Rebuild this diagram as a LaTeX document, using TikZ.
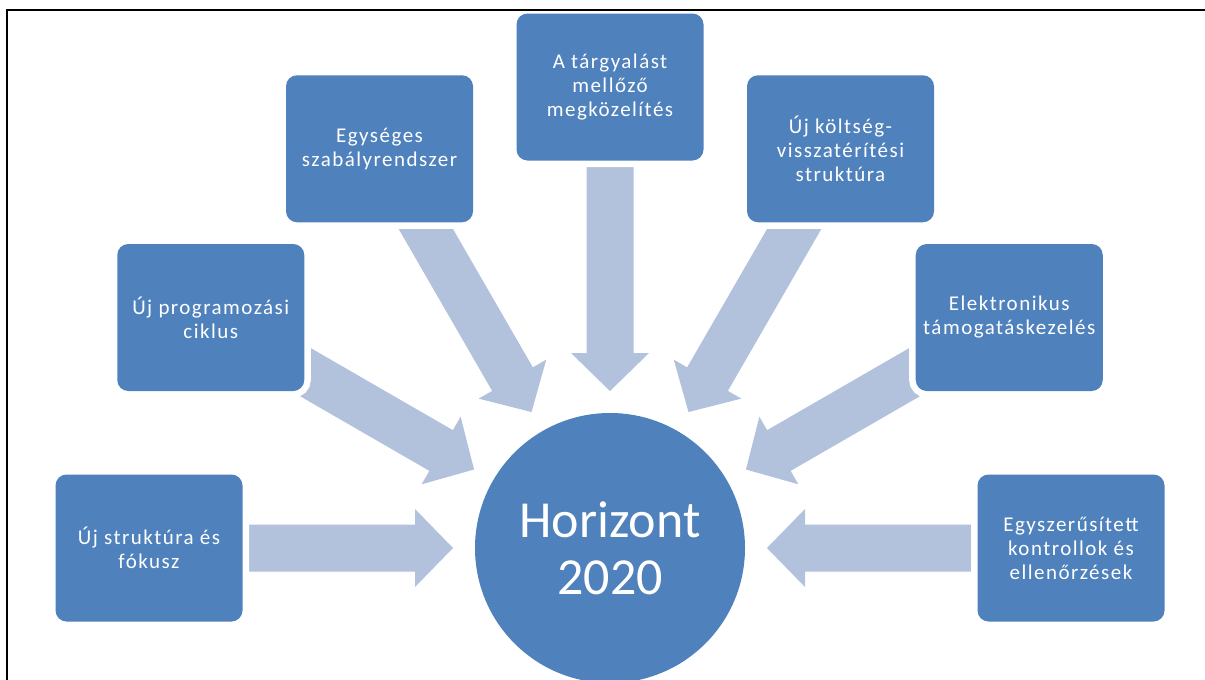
\documentclass[tikz,border=0pt]{standalone}
\usepackage{fontspec}
\setmainfont{Carlito}
\newfontfamily\boxfont[LetterSpace=7]{Carlito}
\usetikzlibrary{calc}
\pgfdeclarelayer{background}
\pgfsetlayers{background,main}
\definecolor{boxblue}{RGB}{79,129,189}
\definecolor{arrowblue}{RGB}{178,193,220}
\begin{document}
\begin{tikzpicture}[x=1pt,y=1pt,
  box/.style={rectangle, rounded corners=11pt, fill=boxblue, text=white,
    minimum width=187pt, minimum height=147pt, inner sep=0pt, align=center,
    font=\boxfont\fontsize{21}{24}\selectfont,
    preaction={draw=white, line width=13pt}},
  hubstyle/.style={circle, fill=boxblue, text=white, minimum size=270pt,
    inner sep=0pt, align=center, font=\fontsize{52}{57}\selectfont},
  blockarrow/.style={fill=arrowblue},
  frameline/.style={draw=black, line width=2pt}]
\useasboundingbox (0,0) rectangle (1205,-680);
\coordinate (c) at (610,-548);
\node[hubstyle] (hub) at (c) {Horizont\\2020};
\node[box] (b1) at ($(c)+(180:461)$) {Új struktúra és\\fókusz};
\node[box] (b2) at ($(c)+(150:461)$) {Új programozási\\ciklus};
\node[box] (b3) at ($(c)+(120:461)$) {Egységes\\szabályrendszer};
\node[box] (b4) at ($(c)+(90:461)$) {A tárgyalást\\mellőző\\megközelítés};
\node[box] (b5) at ($(c)+(60:461)$) {Új költség-\\visszatérítési\\struktúra};
\node[box] (b6) at ($(c)+(30:461)$) {Elektronikus\\támogatáskezelés};
\node[box] (b7) at ($(c)+(0:461)$) {Egyszerűsített\\kontrollok és\\ellenőrzések};
\begin{pgfonlayer}{background}
  \fill[white] (0,0) rectangle (1205,-680);
  \foreach \a in {180,150,120,90,60,30,0} {
    \begin{scope}[shift={(hub.center)}, rotate=\a]
      \fill[blockarrow] (400,23.5) -- (195,23.5) -- (195,39) -- (157,0)
        -- (195,-39) -- (195,-23.5) -- (400,-23.5) -- cycle;
    \end{scope}
  }
\end{pgfonlayer}
\draw[frameline] (7,-690) -- (7,-10) -- (1215,-10);
\end{tikzpicture}
\end{document}
